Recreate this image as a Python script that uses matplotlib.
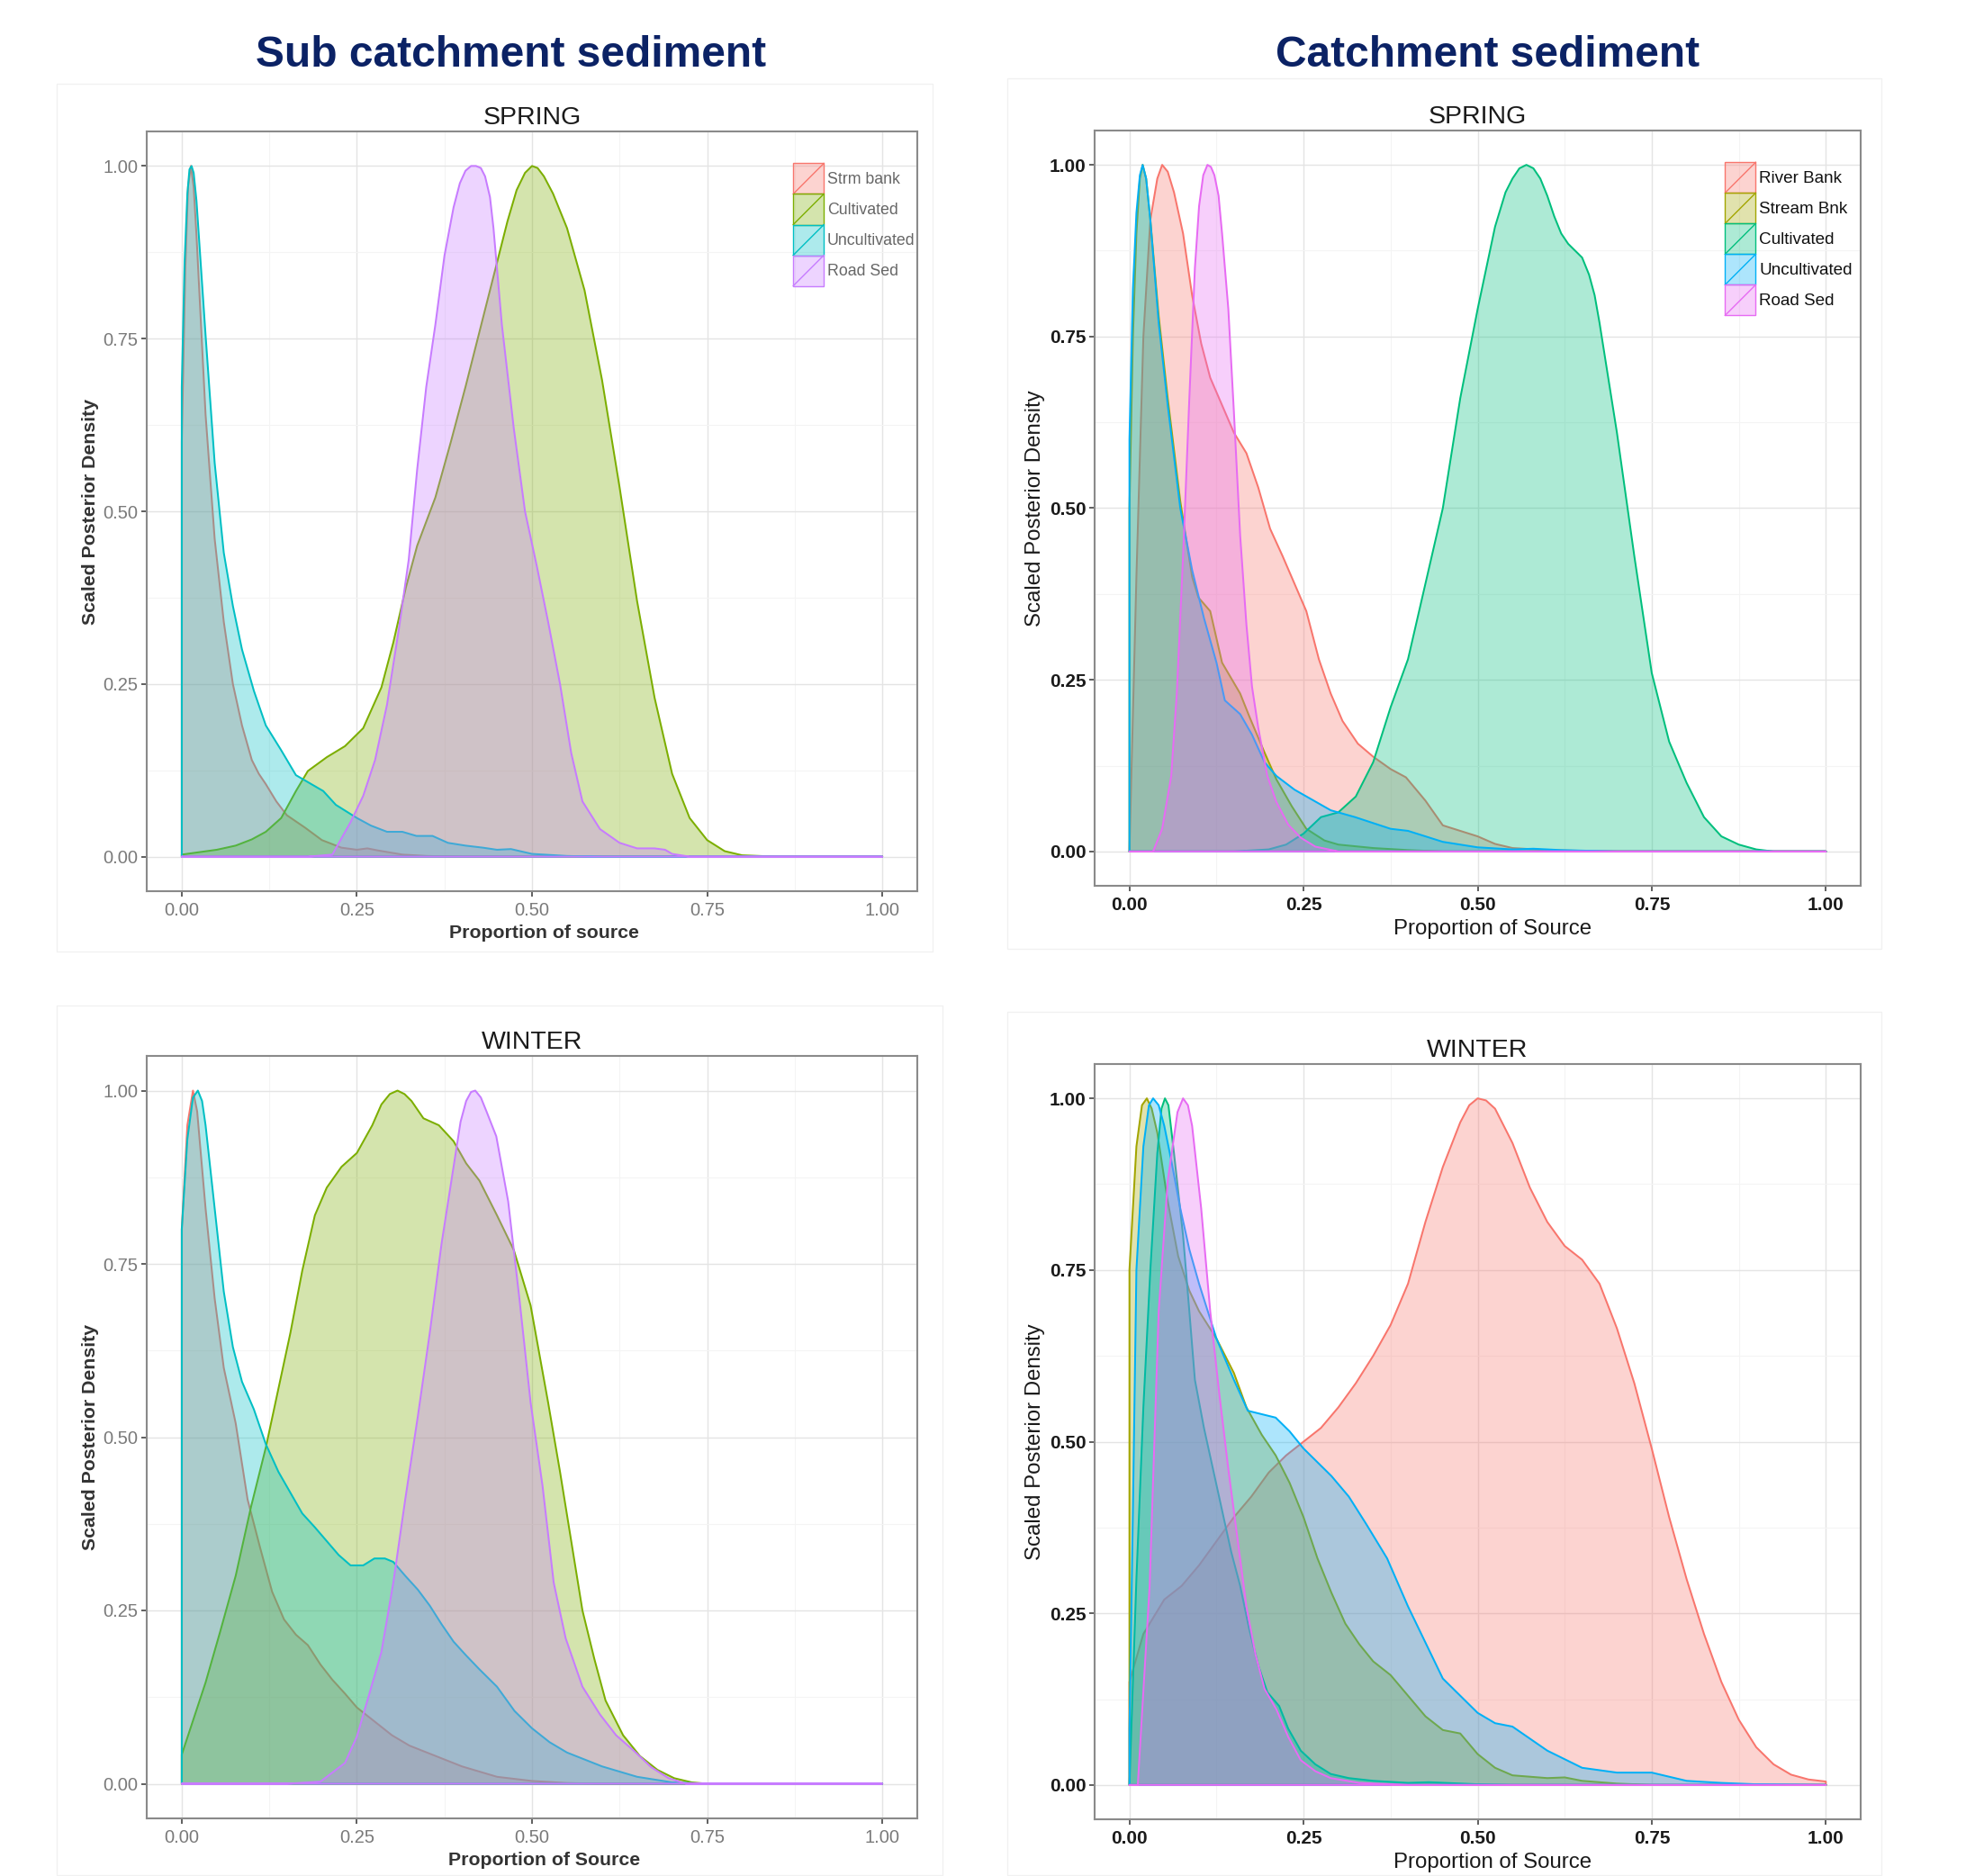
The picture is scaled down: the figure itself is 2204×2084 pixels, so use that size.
"""Scaled posterior density of sediment source proportions, spring and winter,
for the sub catchment (4 sources) and the whole catchment (5 sources)."""
import matplotlib

matplotlib.use("Agg")
import matplotlib.pyplot as plt
from matplotlib import font_manager
from matplotlib.legend_handler import HandlerBase
from matplotlib.lines import Line2D
from matplotlib.patches import Polygon, Rectangle

# ---- data: (proportion, scaled density) ----
SOURCES_SUB = ["Strm bank", "Cultivated", "Uncultivated", "Road Sed"]
SOURCES_CATCH = ["River Bank", "Stream Bnk", "Cultivated", "Uncultivated", "Road Sed"]
COLORS_SUB = ["#F8766D", "#7CAE00", "#00BFC4", "#C77CFF"]
COLORS_CATCH = ["#F8766D", "#A3A500", "#00BF7D", "#00B0F6", "#E76BF3"]
TICKS = [0.0, 0.25, 0.5, 0.75, 1.0]
TICK_LABELS = ["0.00", "0.25", "0.50", "0.75", "1.00"]

sub_spring_strm = [(0, 0.6), (0.005, 0.85), (0.009, 0.97), (0.013, 1.0), (0.017, 0.97), (0.021, 0.9),
                   (0.025, 0.82), (0.034, 0.64), (0.047, 0.46), (0.06, 0.34), (0.073, 0.25),
                   (0.086, 0.19), (0.1, 0.14), (0.11, 0.12), (0.12, 0.105), (0.135, 0.08), (0.15, 0.06),
                   (0.176, 0.042), (0.2, 0.024), (0.228, 0.013), (0.25, 0.01), (0.265, 0.012),
                   (0.28, 0.009), (0.315, 0.003), (0.35, 0.001), (0.4, 0.0), (1.0, 0.0)]
sub_spring_cult = [(0, 0.003), (0.05, 0.01), (0.077, 0.016), (0.1, 0.025), (0.12, 0.036), (0.142, 0.056),
                   (0.163, 0.095), (0.18, 0.124), (0.207, 0.144), (0.233, 0.16), (0.259, 0.186),
                   (0.285, 0.245), (0.302, 0.31), (0.32, 0.39), (0.336, 0.45), (0.362, 0.52),
                   (0.384, 0.6), (0.405, 0.68), (0.43, 0.78), (0.45, 0.86), (0.465, 0.92), (0.478, 0.965),
                   (0.49, 0.99), (0.5, 1.0), (0.508, 0.997), (0.517, 0.985), (0.53, 0.96), (0.55, 0.91),
                   (0.575, 0.82), (0.6, 0.69), (0.625, 0.535), (0.65, 0.37), (0.675, 0.23), (0.7, 0.12),
                   (0.725, 0.056), (0.75, 0.024), (0.775, 0.008), (0.8, 0.002), (0.85, 0.0), (1.0, 0.0)]
sub_spring_uncult = [(0, 0.68), (0.004, 0.86), (0.008, 0.96), (0.011, 0.995), (0.014, 1.0), (0.017, 0.99),
                     (0.021, 0.95), (0.027, 0.86), (0.034, 0.755), (0.047, 0.57), (0.06, 0.44),
                     (0.073, 0.363), (0.086, 0.3), (0.103, 0.24), (0.12, 0.19), (0.142, 0.154),
                     (0.163, 0.118), (0.185, 0.105), (0.202, 0.095), (0.22, 0.075), (0.25, 0.056),
                     (0.27, 0.045), (0.293, 0.036), (0.315, 0.036), (0.335, 0.03), (0.358, 0.03),
                     (0.38, 0.02), (0.405, 0.016), (0.43, 0.013), (0.45, 0.01), (0.47, 0.011),
                     (0.5, 0.004), (0.55, 0.001), (0.6, 0.0), (1.0, 0.0)]
sub_spring_road = [(0, 0.0), (0.18, 0.0), (0.215, 0.003), (0.241, 0.05), (0.259, 0.088), (0.276, 0.14),
                   (0.293, 0.22), (0.31, 0.33), (0.324, 0.43), (0.336, 0.56), (0.349, 0.68),
                   (0.362, 0.77), (0.375, 0.87), (0.388, 0.94), (0.397, 0.975), (0.405, 0.993),
                   (0.413, 1.0), (0.42, 1.0), (0.427, 0.997), (0.433, 0.985), (0.44, 0.955),
                   (0.445, 0.91), (0.457, 0.77), (0.474, 0.62), (0.49, 0.5), (0.507, 0.42),
                   (0.523, 0.34), (0.54, 0.25), (0.556, 0.15), (0.572, 0.08), (0.597, 0.04),
                   (0.625, 0.02), (0.65, 0.012), (0.675, 0.012), (0.69, 0.01), (0.7, 0.004),
                   (0.725, 0.0), (1.0, 0.0)]

catch_spring_river = [(0, 0.0), (0.01, 0.4), (0.02, 0.75), (0.03, 0.92), (0.04, 0.98), (0.047, 1.0),
                      (0.055, 0.99), (0.064, 0.96), (0.077, 0.9), (0.09, 0.81), (0.103, 0.74),
                      (0.116, 0.69), (0.133, 0.65), (0.15, 0.61), (0.168, 0.58), (0.185, 0.53),
                      (0.202, 0.47), (0.22, 0.43), (0.237, 0.39), (0.254, 0.35), (0.272, 0.28),
                      (0.289, 0.23), (0.306, 0.19), (0.328, 0.157), (0.35, 0.138), (0.375, 0.12),
                      (0.397, 0.108), (0.425, 0.074), (0.45, 0.038), (0.475, 0.03), (0.5, 0.022),
                      (0.525, 0.011), (0.55, 0.005), (0.6, 0.002), (0.65, 0.001), (0.7, 0.0), (1.0, 0.0)]
catch_spring_stream = [(0, 0.5), (0.005, 0.75), (0.01, 0.9), (0.015, 0.98), (0.019, 1.0), (0.024, 0.98),
                       (0.03, 0.92), (0.042, 0.78), (0.055, 0.66), (0.073, 0.51), (0.09, 0.4),
                       (0.099, 0.37), (0.116, 0.35), (0.133, 0.275), (0.159, 0.23), (0.172, 0.197),
                       (0.194, 0.144), (0.211, 0.105), (0.233, 0.066), (0.254, 0.033), (0.28, 0.016),
                       (0.3, 0.01), (0.35, 0.005), (0.4, 0.002), (0.45, 0.0), (1.0, 0.0)]
catch_spring_cult = [(0, 0.0), (0.15, 0.0), (0.2, 0.003), (0.225, 0.01), (0.25, 0.026), (0.275, 0.05),
                     (0.3, 0.057), (0.325, 0.08), (0.35, 0.13), (0.375, 0.21), (0.4, 0.28),
                     (0.425, 0.39), (0.45, 0.5), (0.475, 0.66), (0.5, 0.79), (0.525, 0.91),
                     (0.54, 0.96), (0.55, 0.98), (0.56, 0.995), (0.57, 1.0), (0.58, 0.995),
                     (0.59, 0.98), (0.6, 0.955), (0.61, 0.925), (0.62, 0.9), (0.63, 0.885),
                     (0.64, 0.875), (0.65, 0.865), (0.66, 0.84), (0.668, 0.81), (0.675, 0.77),
                     (0.7, 0.61), (0.725, 0.43), (0.75, 0.26), (0.775, 0.16), (0.8, 0.1), (0.825, 0.05),
                     (0.85, 0.022), (0.875, 0.01), (0.9, 0.003), (0.925, 0.0), (1.0, 0.0)]
catch_spring_uncult = [(0, 0.6), (0.005, 0.82), (0.01, 0.93), (0.015, 0.985), (0.019, 1.0), (0.024, 0.98),
                       (0.03, 0.92), (0.042, 0.77), (0.055, 0.65), (0.073, 0.5), (0.09, 0.41),
                       (0.107, 0.34), (0.125, 0.275), (0.137, 0.22), (0.159, 0.2), (0.176, 0.17),
                       (0.194, 0.13), (0.211, 0.11), (0.237, 0.09), (0.263, 0.075), (0.289, 0.06),
                       (0.324, 0.05), (0.354, 0.04), (0.375, 0.033), (0.4, 0.03), (0.45, 0.014),
                       (0.5, 0.006), (0.55, 0.003), (0.58, 0.004), (0.62, 0.002), (0.7, 0.0), (1.0, 0.0)]
catch_spring_road = [(0, 0.0), (0.034, 0.0), (0.047, 0.033), (0.06, 0.11), (0.068, 0.23), (0.077, 0.43),
                     (0.086, 0.66), (0.094, 0.85), (0.1, 0.94), (0.106, 0.985), (0.112, 1.0),
                     (0.117, 0.997), (0.122, 0.985), (0.128, 0.955), (0.133, 0.9), (0.142, 0.79),
                     (0.15, 0.64), (0.159, 0.46), (0.168, 0.33), (0.176, 0.24), (0.185, 0.18),
                     (0.198, 0.11), (0.211, 0.072), (0.228, 0.039), (0.246, 0.02), (0.267, 0.007),
                     (0.3, 0.0), (1.0, 0.0)]

sub_winter_strm = [(0, 0.8), (0.008, 0.95), (0.016, 1.0), (0.022, 0.97), (0.034, 0.83), (0.047, 0.7),
                   (0.06, 0.6), (0.077, 0.52), (0.094, 0.41), (0.112, 0.34), (0.129, 0.277),
                   (0.146, 0.237), (0.163, 0.215), (0.18, 0.2), (0.198, 0.172), (0.215, 0.15),
                   (0.233, 0.13), (0.25, 0.11), (0.275, 0.09), (0.3, 0.07), (0.325, 0.055),
                   (0.35, 0.045), (0.375, 0.035), (0.4, 0.025), (0.45, 0.01), (0.5, 0.004),
                   (0.55, 0.001), (0.6, 0.0), (1.0, 0.0)]
sub_winter_cult = [(0, 0.042), (0.034, 0.146), (0.055, 0.22), (0.077, 0.3), (0.099, 0.4), (0.12, 0.485),
                   (0.138, 0.57), (0.155, 0.65), (0.172, 0.74), (0.19, 0.82), (0.207, 0.86),
                   (0.228, 0.89), (0.25, 0.91), (0.272, 0.95), (0.285, 0.98), (0.297, 0.995),
                   (0.308, 1.0), (0.318, 0.995), (0.328, 0.985), (0.345, 0.96), (0.367, 0.95),
                   (0.388, 0.927), (0.406, 0.895), (0.425, 0.87), (0.45, 0.82), (0.474, 0.77),
                   (0.498, 0.69), (0.523, 0.55), (0.54, 0.45), (0.556, 0.35), (0.572, 0.25),
                   (0.589, 0.18), (0.605, 0.12), (0.63, 0.07), (0.654, 0.04), (0.679, 0.02),
                   (0.703, 0.008), (0.728, 0.002), (0.75, 0.0), (1.0, 0.0)]
sub_winter_uncult = [(0, 0.8), (0.008, 0.93), (0.016, 0.99), (0.023, 1.0), (0.029, 0.985), (0.034, 0.95),
                     (0.047, 0.83), (0.06, 0.71), (0.073, 0.63), (0.086, 0.58), (0.103, 0.54),
                     (0.12, 0.49), (0.138, 0.45), (0.155, 0.42), (0.172, 0.39), (0.19, 0.37),
                     (0.207, 0.35), (0.224, 0.33), (0.241, 0.315), (0.259, 0.315), (0.275, 0.325),
                     (0.29, 0.325), (0.302, 0.32), (0.319, 0.3), (0.337, 0.28), (0.354, 0.257),
                     (0.371, 0.23), (0.388, 0.205), (0.406, 0.185), (0.425, 0.165), (0.45, 0.14),
                     (0.475, 0.105), (0.5, 0.08), (0.525, 0.06), (0.55, 0.045), (0.6, 0.025),
                     (0.65, 0.01), (0.7, 0.002), (0.75, 0.0), (1.0, 0.0)]
sub_winter_road = [(0, 0.0), (0.15, 0.0), (0.198, 0.003), (0.233, 0.03), (0.25, 0.068), (0.267, 0.127),
                   (0.285, 0.19), (0.302, 0.29), (0.319, 0.41), (0.337, 0.53), (0.354, 0.65),
                   (0.371, 0.78), (0.388, 0.89), (0.398, 0.955), (0.406, 0.985), (0.413, 0.998),
                   (0.419, 1.0), (0.427, 0.99), (0.435, 0.97), (0.449, 0.934), (0.466, 0.84),
                   (0.482, 0.7), (0.498, 0.55), (0.515, 0.43), (0.531, 0.29), (0.548, 0.21),
                   (0.572, 0.14), (0.597, 0.1), (0.62, 0.07), (0.646, 0.047), (0.67, 0.024),
                   (0.695, 0.008), (0.72, 0.0), (1.0, 0.0)]

catch_winter_river = [(0, 0.15), (0.02, 0.22), (0.05, 0.27), (0.075, 0.29), (0.1, 0.32), (0.125, 0.355),
                      (0.15, 0.39), (0.175, 0.42), (0.2, 0.455), (0.225, 0.48), (0.25, 0.5),
                      (0.275, 0.52), (0.3, 0.55), (0.325, 0.585), (0.35, 0.625), (0.375, 0.67),
                      (0.4, 0.73), (0.425, 0.82), (0.45, 0.9), (0.475, 0.965), (0.488, 0.99),
                      (0.5, 1.0), (0.512, 0.997), (0.525, 0.985), (0.55, 0.935), (0.575, 0.87),
                      (0.6, 0.82), (0.625, 0.785), (0.65, 0.765), (0.675, 0.73), (0.7, 0.665),
                      (0.725, 0.585), (0.75, 0.49), (0.775, 0.39), (0.8, 0.3), (0.825, 0.22),
                      (0.85, 0.15), (0.875, 0.095), (0.9, 0.055), (0.925, 0.03), (0.95, 0.015),
                      (0.975, 0.008), (1.0, 0.005)]
catch_winter_stream = [(0, 0.75), (0.01, 0.93), (0.018, 0.99), (0.025, 1.0), (0.032, 0.985), (0.04, 0.95),
                       (0.055, 0.85), (0.07, 0.77), (0.086, 0.72), (0.1, 0.69), (0.125, 0.65),
                       (0.15, 0.6), (0.168, 0.55), (0.19, 0.51), (0.21, 0.48), (0.23, 0.44),
                       (0.25, 0.39), (0.27, 0.33), (0.29, 0.28), (0.31, 0.235), (0.33, 0.205),
                       (0.35, 0.18), (0.375, 0.16), (0.4, 0.13), (0.425, 0.1), (0.45, 0.08),
                       (0.475, 0.075), (0.5, 0.045), (0.525, 0.025), (0.55, 0.014), (0.6, 0.01),
                       (0.625, 0.011), (0.65, 0.006), (0.7, 0.002), (0.75, 0.0), (1.0, 0.0)]
catch_winter_cult = [(0, 0.0), (0.01, 0.3), (0.02, 0.55), (0.03, 0.75), (0.04, 0.92), (0.046, 0.985),
                     (0.051, 1.0), (0.056, 0.99), (0.064, 0.92), (0.077, 0.8), (0.086, 0.69),
                     (0.094, 0.59), (0.107, 0.52), (0.12, 0.46), (0.133, 0.4), (0.146, 0.34),
                     (0.159, 0.29), (0.172, 0.227), (0.185, 0.174), (0.198, 0.135), (0.215, 0.115),
                     (0.228, 0.082), (0.246, 0.05), (0.267, 0.03), (0.289, 0.016), (0.315, 0.01),
                     (0.35, 0.006), (0.4, 0.003), (0.43, 0.004), (0.5, 0.001), (0.55, 0.0), (1.0, 0.0)]
catch_winter_uncult = [(0, 0.08), (0.005, 0.4), (0.01, 0.75), (0.02, 0.93), (0.028, 0.99), (0.034, 1.0),
                       (0.042, 0.99), (0.05, 0.96), (0.06, 0.91), (0.073, 0.84), (0.086, 0.78),
                       (0.1, 0.73), (0.125, 0.65), (0.15, 0.59), (0.17, 0.545), (0.19, 0.54),
                       (0.21, 0.535), (0.23, 0.515), (0.25, 0.49), (0.29, 0.45), (0.315, 0.42),
                       (0.34, 0.38), (0.37, 0.33), (0.4, 0.26), (0.45, 0.155), (0.5, 0.105),
                       (0.525, 0.09), (0.55, 0.085), (0.6, 0.05), (0.65, 0.025), (0.7, 0.018),
                       (0.75, 0.018), (0.8, 0.006), (0.85, 0.003), (0.9, 0.001), (1.0, 0.0)]
catch_winter_road = [(0, 0.0), (0.012, 0.0), (0.029, 0.29), (0.042, 0.69), (0.055, 0.88), (0.069, 0.98),
                     (0.077, 1.0), (0.084, 0.99), (0.09, 0.96), (0.103, 0.84), (0.116, 0.69),
                     (0.129, 0.57), (0.142, 0.46), (0.155, 0.36), (0.168, 0.26), (0.181, 0.19),
                     (0.194, 0.14), (0.211, 0.11), (0.228, 0.07), (0.246, 0.036), (0.267, 0.02),
                     (0.289, 0.01), (0.33, 0.003), (0.4, 0.0), (1.0, 0.0)]

W, H = 2204, 2084
ALPHA = 0.32


def _font(name):
    names = {f.name for f in font_manager.fontManager.ttflist}
    return name if name in names else None


class DensityKey(HandlerBase):
    """ggplot-like density key: tinted square with outline and a diagonal slash."""

    def create_artists(self, legend, orig, xd, yd, width, height, fontsize, trans):
        rect = Rectangle((-xd, -yd), width, height, facecolor=orig.get_facecolor(),
                         edgecolor=orig.get_edgecolor(), lw=1.0, transform=trans)
        slash = Line2D([-xd, -xd + width], [-yd, -yd + height], color=orig.get_edgecolor(),
                       lw=1.0, transform=trans)
        return [rect, slash]


def px_axes(left, top, right, bottom):
    return [left / W, 1 - bottom / H, (right - left) / W, (bottom - top) / H]


def draw_panel(fig, rect, title, series, labels, colors, xlabel, style, legend_at=None):
    ax = fig.add_axes(rect)
    for pts, lab, col in zip(series, labels, colors):
        xs = [p[0] for p in pts] + [1.0, 0.0]
        ys = [p[1] for p in pts] + [0.0, 0.0]
        ax.fill(xs, ys, facecolor=matplotlib.colors.to_rgba(col, ALPHA), edgecolor=col,
                lw=1.45, label=lab, joinstyle="round")
    ax.set_xlim(-0.05, 1.05)
    ax.set_ylim(-0.05, 1.05)
    ax.set_xticks(TICKS, TICK_LABELS)
    ax.set_yticks(TICKS, TICK_LABELS)
    minors = [0.125, 0.375, 0.625, 0.875]
    ax.set_xticks(minors, minor=True)
    ax.set_yticks(minors, minor=True)
    ax.grid(which="major", color="#e4e4e4", lw=1.0)
    ax.grid(which="minor", color="#f4f4f4", lw=0.8)
    ax.set_axisbelow(True)
    for sp in ax.spines.values():
        sp.set_color("#8a8a8a")
        sp.set_linewidth(1.5)
    ax.tick_params(which="minor", length=0)
    ax.tick_params(which="major", length=4, width=1.2, color="#444444", pad=3,
                   labelsize=style["tick_size"], labelcolor=style["tick_color"])
    ax.tick_params(axis="x", which="major", pad=4.5)
    for t in ax.get_xticklabels() + ax.get_yticklabels():
        t.set_fontweight(style["tick_weight"])
    ax.set_title(title, fontsize=20.5, color="#1a1a1a", pad=6)
    ax.set_xlabel(xlabel, fontsize=style["lab_size"], fontweight=style["lab_weight"],
                  color=style["lab_color"], labelpad=4.5)
    ax.xaxis.label.set_x(0.5 + style["xlab_shift"])
    ax.set_ylabel("Scaled Posterior Density", fontsize=style["lab_size"],
                  fontweight=style["lab_weight"], color=style["lab_color"], labelpad=3)
    if legend_at is not None:
        fs = style["leg_size"]
        key_pt = 24.5  # key square side in points
        leg = ax.legend(loc="upper left", bbox_to_anchor=legend_at, frameon=False,
                        borderpad=0, borderaxespad=0, labelspacing=0, handletextpad=0.2,
                        handlelength=key_pt / fs,
                        handleheight=(key_pt / fs - 0.245) / 0.65,
                        fontsize=fs, handler_map={Polygon: DensityKey()})
        for t in leg.get_texts():
            t.set_color(style["leg_color"])
    return ax


def main():
    plt.rcParams["font.family"] = ["Liberation Sans", "DejaVu Sans"]
    fig = plt.figure(figsize=(W / 100, H / 100), dpi=100)
    fig.patch.set_facecolor("white")

    # faint frames of the four pasted plot images
    for l, t, r, b in [(63, 93, 1036, 1057), (1119, 87, 2090, 1054),
                       (63, 1117, 1047, 2083), (1119, 1124, 2090, 2083)]:
        fig.add_artist(Rectangle((l / W, 1 - b / H), (r - l) / W, (b - t) / H,
                                 transform=fig.transFigure, fill=False,
                                 edgecolor="#f1f1f1", lw=1.0))

    left_style = dict(tick_size=14.5, tick_color="#7a7a7a", tick_weight="normal",
                      lab_size=15.3, lab_weight="bold", lab_color="#333333",
                      leg_size=12.8, leg_color="#666666", xlab_shift=0.016)
    right_style = dict(tick_size=15, tick_color="#1a1a1a", tick_weight="bold",
                       lab_size=17.3, lab_weight="normal", lab_color="#1a1a1a",
                       leg_size=13.6, leg_color="#111111", xlab_shift=0.02)

    draw_panel(fig, px_axes(163, 146, 1019, 990), "SPRING",
               [sub_spring_strm, sub_spring_cult, sub_spring_uncult, sub_spring_road],
               SOURCES_SUB, COLORS_SUB, "Proportion of source", left_style,
               legend_at=(0.839, 0.958))
    draw_panel(fig, px_axes(1216, 145, 2067, 984), "SPRING",
               [catch_spring_river, catch_spring_stream, catch_spring_cult,
                catch_spring_uncult, catch_spring_road],
               SOURCES_CATCH, COLORS_CATCH, "Proportion of Source", right_style,
               legend_at=(0.823, 0.958))
    draw_panel(fig, px_axes(163, 1173, 1019, 2020), "WINTER",
               [sub_winter_strm, sub_winter_cult, sub_winter_uncult, sub_winter_road],
               SOURCES_SUB, COLORS_SUB, "Proportion of Source", left_style)
    draw_panel(fig, px_axes(1216, 1182, 2067, 2021), "WINTER",
               [catch_winter_river, catch_winter_stream, catch_winter_cult,
                catch_winter_uncult, catch_winter_road],
               SOURCES_CATCH, COLORS_CATCH, "Proportion of Source", right_style)

    narrow = _font("Liberation Sans Narrow")
    head_kw = dict(fontweight="bold", color="#0b2265", ha="center", va="center")
    if narrow:
        head_kw.update(fontsize=40, family=narrow)
    else:
        head_kw.update(fontsize=34.5)
    fig.text(568 / W, 1 - 62 / H, "Sub catchment sediment", **head_kw)
    fig.text(1653 / W, 1 - 62 / H, "Catchment sediment", **head_kw)

    fig.savefig("out.png", dpi=100, facecolor="white")


if __name__ == "__main__":
    main()
